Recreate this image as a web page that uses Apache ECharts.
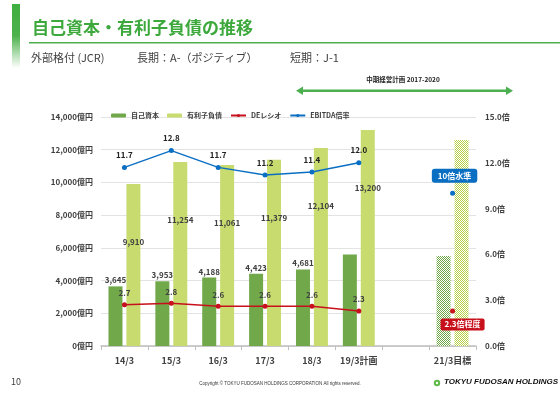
<!DOCTYPE html>
<html lang="ja">
<head>
    <meta charset="UTF-8">
    <title>自己資本・有利子負債の推移</title>
    <script src="https://cdn.jsdelivr.net/npm/echarts@6/dist/echarts.min.js"></script>
    <style>
        body { margin: 0; background: #fff; }
        #chart { width: 560px; height: 396px; }
    </style>
</head>
<body>
    <div id="chart"></div>
    <script>
        // data
        const categories = ['14/3', '15/3', '16/3', '17/3', '18/3', '19/3計画', '', '21/3目標'];
        const equity = [3645, 3953, 4188, 4423, 4681, 5600, null, 5500];
        const debt = [9910, 11254, 11061, 11379, 12104, 13200, null, 12600];
        const deRatio = [2.7, 2.8, 2.6, 2.6, 2.6, 2.3, null, 2.3];
        const ebitdaRatio = [11.7, 12.8, 11.7, 11.2, 11.4, 12.0, null, 10.0];
        const leftTicks = { min: 0, max: 14000, interval: 2000 };
        const rightTicks = { min: 0, max: 15, interval: 3 };
        const targetIndex = 7;
        const labeledEquity = 5;  // only actual years carry a label
        const labeledDebt = 6;

        const FONT = '"Noto Sans CJK JP", "Noto Sans", sans-serif';
        const DARK = '#70A84A';
        const LIGHT = '#C7DB6E';
        const BLUE = '#0A6FC2';
        const RED = '#C8101C';

        // small checker pattern for the target bars
        function checker(color) {
            const c = document.createElement('canvas');
            c.width = 2; c.height = 2;
            const ctx = c.getContext('2d');
            ctx.fillStyle = '#ffffff';
            ctx.fillRect(0, 0, 2, 2);
            ctx.fillStyle = color;
            ctx.fillRect(0, 0, 1, 1);
            ctx.fillRect(1, 1, 1, 1);
            return { image: c, repeat: 'repeat' };
        }

        function barData(values, pattern) {
            return values.map((v, i) => i === targetIndex
                ? { value: v, itemStyle: { color: pattern } }
                : v);
        }

        const chart = echarts.init(document.getElementById('chart'));
        chart.setOption({
            animation: false,
            textStyle: { fontFamily: FONT },
            grid: { left: 101, right: 84, top: 117, bottom: 50 },
            legend: {
                left: 106, top: 107,
                itemWidth: 15, itemHeight: 4, itemGap: 8,
                textStyle: { fontSize: 7, fontWeight: 'bold', color: '#404040' },
                data: ['自己資本', '有利子負債', 'DEレシオ', 'EBITDA倍率']
            },
            xAxis: {
                type: 'category',
                data: categories,
                axisLine: { lineStyle: { color: '#BFBFBF', width: 1.5 } },
                axisTick: { show: true, length: 4, interval: 0, lineStyle: { color: '#BFBFBF' } },
                axisLabel: { interval: 0, fontSize: 9, fontWeight: 'bold', color: '#404040', margin: 10 }
            },
            yAxis: [{
                type: 'value',
                min: leftTicks.min, max: leftTicks.max, interval: leftTicks.interval,
                axisLine: { show: false },
                axisTick: { show: false },
                splitLine: { lineStyle: { color: '#E3E3E3' } },
                axisLabel: {
                    fontSize: 8, fontWeight: 'bold', color: '#404040', margin: 8,
                    formatter: v => v.toLocaleString('en-US') + '億円'
                }
            }, {
                type: 'value',
                min: rightTicks.min, max: rightTicks.max, interval: rightTicks.interval,
                axisLine: { show: false },
                axisTick: { show: false },
                splitLine: { show: false },
                axisLabel: {
                    fontSize: 8, fontWeight: 'bold', color: '#404040', margin: 9,
                    formatter: v => v.toFixed(1) + '倍'
                }
            }],
            series: [{
                name: '自己資本',
                type: 'bar',
                barWidth: 14,
                barGap: '28%',
                itemStyle: { color: DARK },
                data: barData(equity, checker(DARK)),
                label: {
                    show: true, position: 'top', distance: 2,
                    fontSize: 8, fontWeight: 'bold', color: '#404040',
                    formatter: p => p.dataIndex < labeledEquity ? p.value.toLocaleString('en-US') : ''
                }
            }, {
                name: '有利子負債',
                type: 'bar',
                barWidth: 14,
                itemStyle: { color: LIGHT },
                data: barData(debt, checker('#B5D24A')),
                label: {
                    show: true, position: 'insideTop', distance: 54,
                    fontSize: 8, fontWeight: 'bold', color: '#404040',
                    formatter: p => p.dataIndex < labeledDebt ? p.value.toLocaleString('en-US') : ''
                }
            }, {
                name: 'DEレシオ',
                type: 'line',
                yAxisIndex: 1,
                symbol: 'circle', symbolSize: 5,
                lineStyle: { color: RED, width: 1.5 },
                itemStyle: { color: RED },
                connectNulls: false,
                data: deRatio.map((v, i) => i === targetIndex ? {
                    value: v,
                    label: {
                        show: true, position: 'bottom', distance: 5, offset: [10, 0],
                        formatter: '2.3倍程度',
                        backgroundColor: RED, color: '#fff', fontSize: 8, fontWeight: 'bold',
                        padding: [2, 4], borderRadius: 2
                    }
                } : v),
                label: {
                    show: true, position: 'top', distance: 5,
                    fontSize: 8, fontWeight: 'bold', color: '#404040',
                    formatter: p => p.value.toFixed(1)
                }
            }, {
                name: 'EBITDA倍率',
                type: 'line',
                yAxisIndex: 1,
                symbol: 'circle', symbolSize: 5,
                lineStyle: { color: BLUE, width: 1.5 },
                itemStyle: { color: BLUE },
                connectNulls: false,
                data: ebitdaRatio.map((v, i) => i === targetIndex ? {
                    value: v,
                    label: {
                        show: true, position: 'top', distance: 8, offset: [2, 0],
                        formatter: '10倍水準',
                        backgroundColor: BLUE, color: '#fff', fontSize: 8, fontWeight: 'bold',
                        padding: [3, 6], borderRadius: 3
                    }
                } : v),
                label: {
                    show: true, position: 'top', distance: 6,
                    fontSize: 8, fontWeight: 'bold', color: '#222',
                    formatter: p => p.value.toFixed(1)
                }
            }],
            graphic: [
                // header bar with fade
                {
                    type: 'rect', shape: { x: 12, y: 4, width: 8, height: 64 },
                    style: {
                        fill: new echarts.graphic.LinearGradient(0, 0, 0, 1, [
                            { offset: 0, color: '#3FAE3F' },
                            { offset: 0.5, color: '#4DB24D' },
                            { offset: 1, color: '#FFFFFF' }
                        ])
                    }
                },
                {
                    type: 'text', left: 32, top: 19,
                    style: { text: '自己資本・有利子負債の推移', fontSize: 17, fontWeight: 'bold', fill: '#3DA93D', fontFamily: FONT }
                },
                { type: 'rect', shape: { x: 29, y: 42, width: 531, height: 1.5 }, style: { fill: '#4CAF4C' } },
                {
                    type: 'text', left: 31, top: 52,
                    style: { text: '外部格付 (JCR)', fontSize: 11, fill: '#404040', fontFamily: FONT }
                },
                {
                    type: 'text', left: 137, top: 52,
                    style: { text: '長期：A-（ポジティブ）', fontSize: 11, fill: '#404040', fontFamily: FONT }
                },
                {
                    type: 'text', left: 290, top: 52,
                    style: { text: '短期：J-1', fontSize: 11, fill: '#404040', fontFamily: FONT }
                },
                // mid-term plan arrow
                {
                    type: 'text', x: 403, y: 80,
                    style: { text: '中期経営計画 2017-2020', fontSize: 6.5, fontWeight: 'bold', fill: '#222', align: 'center', verticalAlign: 'middle', fontFamily: FONT }
                },
                { type: 'rect', shape: { x: 300, y: 89.5, width: 209, height: 2.5 }, style: { fill: '#4CAF50' } },
                { type: 'polygon', shape: { points: [[296, 90.7], [303, 86.5], [303, 95]] }, style: { fill: '#4CAF50' } },
                { type: 'polygon', shape: { points: [[513, 90.7], [506, 86.5], [506, 95]] }, style: { fill: '#4CAF50' } },
                // footer
                {
                    type: 'text', left: 11, top: 377,
                    style: { text: '10', fontSize: 9, fill: '#404040', fontFamily: FONT }
                },
                {
                    type: 'text', x: 280, y: 384,
                    style: { text: 'Copyright © TOKYU FUDOSAN HOLDINGS CORPORATION All rights reserved.', fontSize: 4.5, fill: '#333', align: 'center', verticalAlign: 'middle', fontFamily: 'Liberation Sans' }
                },
                { type: 'circle', shape: { cx: 437, cy: 383, r: 3.2 }, style: { fill: '#5DBB46' } },
                { type: 'circle', shape: { cx: 437, cy: 383, r: 1.2 }, style: { fill: '#fff' } },
                {
                    type: 'text', left: 444, top: 378,
                    style: { text: 'TOKYU FUDOSAN HOLDINGS', fontSize: 8, fontWeight: 'bold', fontStyle: 'italic', fill: '#111', fontFamily: 'Liberation Sans' }
                }
            ]
        });
    </script>
</body>
</html>
